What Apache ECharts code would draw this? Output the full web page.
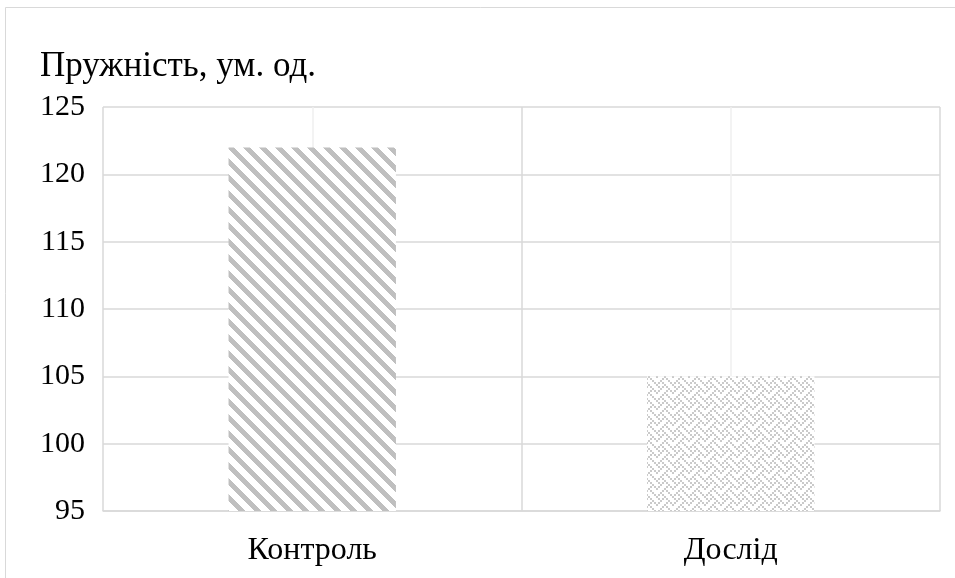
<!DOCTYPE html>
<html>
<head>
<meta charset="utf-8">
<title>Пружність</title>
<script src="https://cdn.jsdelivr.net/npm/echarts@6/dist/echarts.min.js"></script>
<style>
  html, body { margin: 0; padding: 0; background: #fff; }
  #chart { width: 955px; height: 578px; }
</style>
</head>
<body>
<div id="chart"></div>
<script>
// Chart data
const titleText = 'Пружність, ум. од.';
const categories = ['Контроль', 'Дослід'];
const values = [122, 105];
const yTicks = { min: 95, max: 125, step: 5 };

// Diagonal stripe fill ("\" direction), 16px period, on white
function stripePattern(color) {
  const c = document.createElement('canvas');
  c.width = 16; c.height = 16;
  const ctx = c.getContext('2d');
  ctx.fillStyle = '#fff';
  ctx.fillRect(0, 0, 16, 16);
  ctx.fillStyle = color;
  for (let y = 0; y < 16; y++) {
    for (let x = 0; x < 16; x++) {
      if (((x - y) % 16 + 16) % 16 < 7) ctx.fillRect(x, y, 1, 1);
    }
  }
  return c;
}

// Weave fill: 8x8 bitmap drawn at 2x, on white
function weavePattern(color) {
  const rows = [0x88, 0x54, 0x22, 0x45, 0x88, 0x14, 0x22, 0x51];
  const c = document.createElement('canvas');
  c.width = 16; c.height = 16;
  const ctx = c.getContext('2d');
  ctx.fillStyle = '#fff';
  ctx.fillRect(0, 0, 16, 16);
  ctx.fillStyle = color;
  rows.forEach((bits, r) => {
    for (let col = 0; col < 8; col++) {
      if (bits & (0x80 >> col)) ctx.fillRect(col * 2, r * 2, 2, 2);
    }
  });
  return c;
}

const fills = [
  { image: stripePattern('#bfbfbf'), repeat: 'repeat' },
  { image: weavePattern('#cacaca'), repeat: 'repeat' }
];

const font = '"Liberation Serif", "Times New Roman", serif';
const chart = echarts.init(document.getElementById('chart'), null, { renderer: 'canvas' });

chart.setOption({
  animation: false,
  backgroundColor: '#fff',
  textStyle: { fontFamily: font },
  title: {
    text: titleText,
    left: 35,
    top: 44,
    textStyle: { fontFamily: font, fontSize: 35, fontWeight: 'normal', color: '#000' }
  },
  graphic: [{
    type: 'rect',
    z: -10,
    silent: true,
    shape: { x: 5.5, y: 7.5, width: 1000, height: 700 },
    style: { fill: 'none', stroke: '#d9d9d9', lineWidth: 1 }
  }],
  grid: { left: 103, right: 15, top: 107, bottom: 67 },
  xAxis: [
    {
      type: 'category',
      data: categories,
      axisLine: { show: true, lineStyle: { color: '#d9d9d9', width: 1.5 } },
      axisTick: { show: false },
      splitLine: { show: false },
      axisLabel: { margin: 24, fontSize: 32, fontFamily: font, color: '#000' }
    },
    {
      // vertical grid: category boundaries and centres
      type: 'value',
      min: 0, max: 4, interval: 1,
      position: 'top',
      axisLine: { show: false },
      axisTick: { show: false },
      axisLabel: { show: false },
      splitLine: { show: true, lineStyle: { color: ['#d9d9d9', '#efefef'], width: 1.5 } }
    }
  ],
  yAxis: {
    type: 'value',
    min: yTicks.min,
    max: yTicks.max,
    interval: yTicks.step,
    axisLine: { show: false },
    axisTick: { show: false },
    axisLabel: { margin: 18, fontSize: 30, fontFamily: font, color: '#000' },
    splitLine: { show: true, lineStyle: { color: '#d9d9d9', width: 1.5 } }
  },
  series: [{
    type: 'bar',
    xAxisIndex: 0,
    barWidth: '40%',
    data: values.map((v, i) => ({ value: v, itemStyle: { color: fills[i] } }))
  }]
});
</script>
</body>
</html>
